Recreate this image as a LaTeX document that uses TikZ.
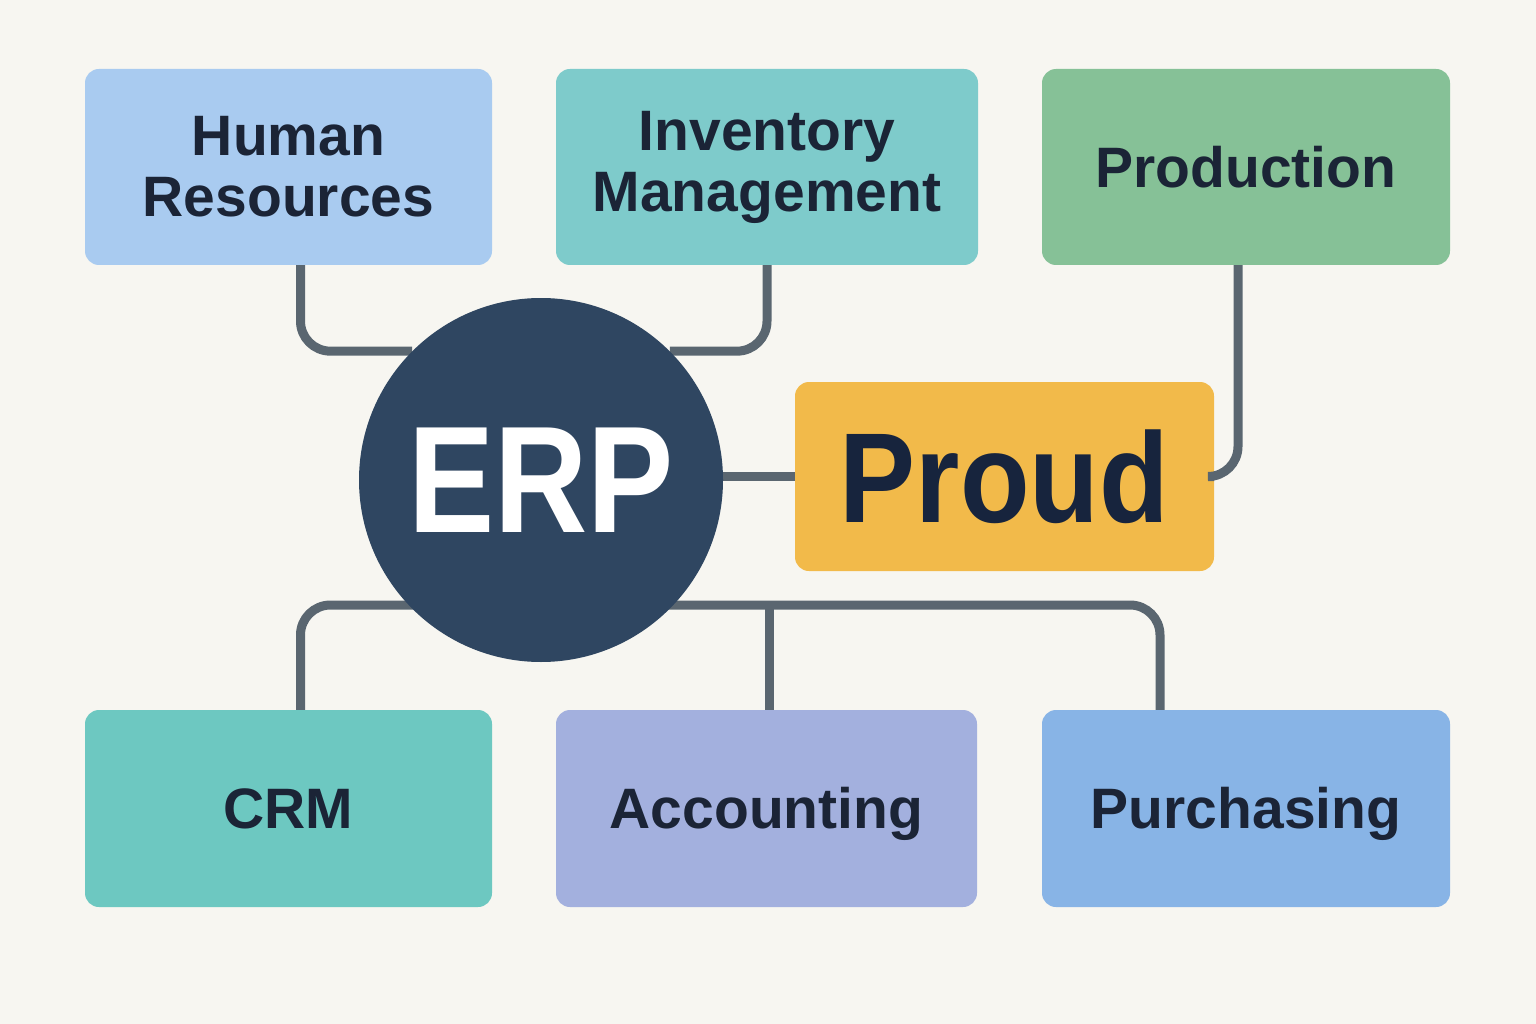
\documentclass[tikz,border=0pt]{standalone}
\usepackage{fontspec}
\setmainfont{Liberation Sans}
\newfontfamily\erpfont[FakeStretch=0.85]{Liberation Sans}
\newfontfamily\proudfont[FakeStretch=0.89]{Liberation Sans}
\usetikzlibrary{calc}
\definecolor{bg}{HTML}{F7F6F1}
\definecolor{txt}{HTML}{1B2436}
\definecolor{wire}{HTML}{5A6670}
\definecolor{hrc}{HTML}{A9CBF0}
\definecolor{invc}{HTML}{7ECBCB}
\definecolor{prodc}{HTML}{86C197}
\definecolor{proudc}{HTML}{F2BA4A}
\definecolor{crmc}{HTML}{6DC8C1}
\definecolor{accc}{HTML}{A3B0DE}
\definecolor{purc}{HTML}{88B4E6}
\definecolor{erpc}{HTML}{2F4661}
\definecolor{proudtxt}{HTML}{17243D}
\begin{document}
\begin{tikzpicture}[x=1pt,y=-1pt,
  box/.style={rectangle, rounded corners=14pt, text=txt, align=center, inner sep=0pt,
    font=\bfseries\fontsize{57}{61}\selectfont},
  conn/.style={draw=wire, line width=9pt, rounded corners=30pt}]
\fill[bg] (0,0) rectangle (1536,1024);
\useasboundingbox (0,0) rectangle (1536,1024);

\node[box, fill=hrc, minimum width=407pt, minimum height=196pt] (hr) at (288.5,167) {Human\\Resources};
\node[box, fill=invc, minimum width=422pt, minimum height=196pt] (inv) at (767,167) {Inventory\\Management};
\node[box, fill=prodc, minimum width=408pt, minimum height=196pt] (prod) at (1246,167) {Production};
\node[box, fill=proudc, text=proudtxt, minimum width=419pt, minimum height=189pt, font=\proudfont\bfseries\fontsize{128}{128}\selectfont] (proud) at (1004.5,476.5) {Proud};
\node[box, fill=crmc, minimum width=407pt, minimum height=197pt] (crm) at (288.5,808.5) {CRM};
\node[box, fill=accc, minimum width=421pt, minimum height=197pt] (acc) at (766.5,808.5) {\raisebox{0pt}[41pt][2pt]{Accounting}};
\node[box, fill=purc, minimum width=408pt, minimum height=197pt] (pur) at (1246,808.5) {\raisebox{0pt}[41pt][2pt]{Purchasing}};

\coordinate (jb) at (769,605);
\node[circle, minimum size=364pt, inner sep=0pt] (erp) at (541,480) {};

\draw[conn] ([xshift=12pt]hr.south) |- (erp.north west);
\draw[conn] (inv.south) |- (erp.north east);
\draw[conn] ([xshift=-8pt]prod.south) |- (proud.east);
\draw[conn] (erp.east |- proud.west) -- (proud.west);
\draw[conn] ([xshift=12pt]crm.north) |- (jb) -| ([xshift=-86pt]pur.north);
\draw[conn] (jb) -- (jb |- acc.north);

\node[circle, fill=erpc, minimum size=364pt, inner sep=0pt, text=white,
  font=\erpfont\bfseries\fontsize{152}{152}\selectfont] at (541,480) {ERP};
\end{tikzpicture}
\end{document}
